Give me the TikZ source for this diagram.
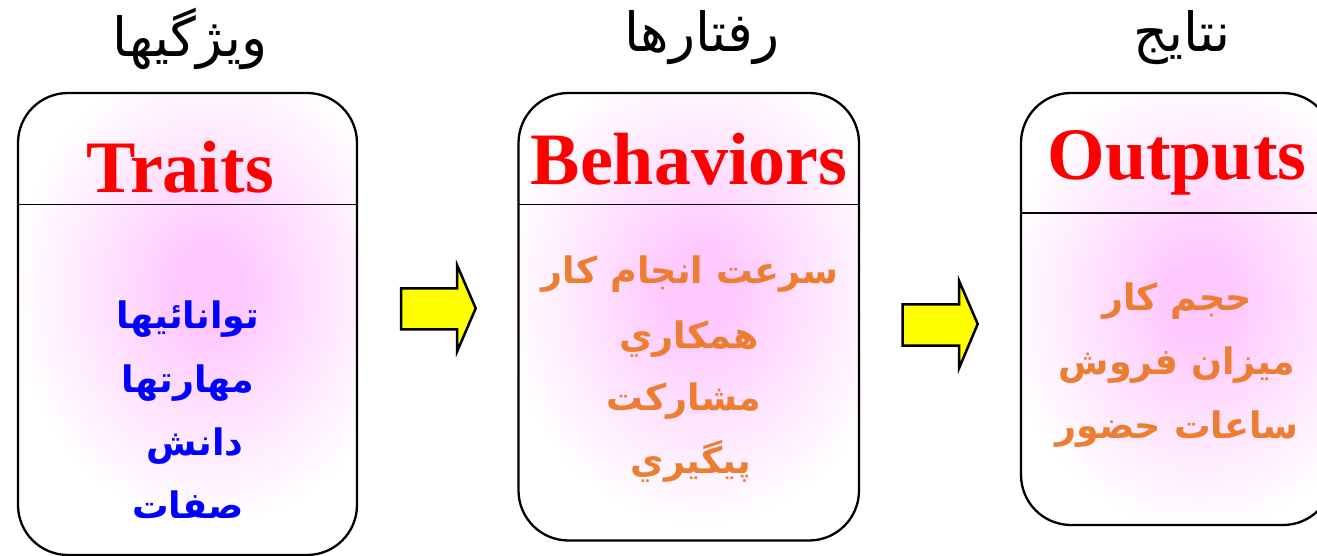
\documentclass[tikz,border=0pt]{standalone}
\usepackage{fontspec}
\setmainfont{Liberation Serif}
\newfontfamily\arabicfont[Script=Arabic]{DejaVu Sans}
\TeXXeTstate=1

\definecolor{glowpink}{RGB}{255,200,255}
\definecolor{glowmid}{RGB}{255,226,255}
\definecolor{bodyorange}{RGB}{237,125,49}
\definecolor{headred}{RGB}{255,0,0}
\definecolor{bodyblue}{RGB}{0,0,255}
\definecolor{arrowyellow}{RGB}{255,255,0}

% soft pink glow that fades to white (25bp = edge of the shaded path)
\pgfdeclareradialshading{glow}{\pgfpoint{0bp}{0bp}}{%
  color(0bp)=(glowpink); color(4bp)=(glowpink);
  color(13bp)=(glowmid); color(24bp)=(white); color(50bp)=(white)}

\begin{document}
\begin{tikzpicture}[x=1bp, y=-1bp,
  box/.style={draw=black, line width=2.3bp, rounded corners=50bp,
    inner sep=0pt, outer sep=0pt},
  divider/.style={draw=black, line width=1.8bp},
  blockarrow/.style={draw=black, fill=arrowyellow, line width=2.5bp,
    line join=miter},
  toptitle/.style={anchor=base, inner sep=0pt,
    font=\arabicfont\fontsize{54bp}{60bp}\selectfont},
  headline/.style={anchor=base, inner sep=0pt, text=headred,
    font=\bfseries\fontsize{74bp}{80bp}\selectfont},
  blueline/.style={anchor=base, inner sep=0pt, text=bodyblue,
    font=\arabicfont\bfseries\fontsize{36.5bp}{44bp}\selectfont},
  orangeline/.style={anchor=base, inner sep=0pt, text=bodyorange,
    font=\arabicfont\bfseries\fontsize{36.5bp}{44bp}\selectfont}]

\clip (0,0) rectangle (1317,556);

% ---- glow fills, clipped to each box ----
\begin{scope}
  \clip[rounded corners=50bp] (18,93) rectangle (357,555);
  \shade[shading=glow] (5,45) rectangle (415,535);
\end{scope}
\begin{scope}
  \clip[rounded corners=50bp] (518.5,93) rectangle (859,540.5);
  \shade[shading=glow] (495,45) rectangle (905,535);
\end{scope}
\begin{scope}
  \clip[rounded corners=50bp] (1021,93) rectangle (1333,525);
  \shade[shading=glow] (995,60) rectangle (1405,540);
\end{scope}

% ---- boxes ----
\node[box, minimum width=339bp, minimum height=462bp] (traits) at (187.5,324) {};
\node[box, minimum width=340.5bp, minimum height=447.5bp] (behaviors) at (688.75,316.75) {};
\node[box, minimum width=312bp, minimum height=432bp] (outputs) at (1177,309) {};

% ---- header dividers ----
\draw[divider] ([yshift=-111.5bp]traits.north west) -- ([yshift=-111.5bp]traits.north east);
\draw[divider] ([yshift=-111.5bp]behaviors.north west) -- ([yshift=-111.5bp]behaviors.north east);
\draw[divider] ([yshift=-119.7bp]outputs.north west) -- ([yshift=-119.7bp]outputs.north east);

% ---- block arrows ----
\draw[blockarrow] (401,288.3) -- (457,288.3) -- (457,265) -- (475.7,308.3)
  -- (457,351.7) -- (457,329.3) -- (401,329.3) -- cycle;
\draw[blockarrow] (902.7,304.3) -- (959,304.3) -- (959,280.7) -- (977.7,324)
  -- (959,368.3) -- (959,345.7) -- (902.7,345.7) -- cycle;

% ---- titles above the boxes ----
\node[toptitle] (h1) at (190,57) {\beginR ویژگیها\endR};
\node[toptitle] (h2) at (702,52) {\beginR رفتارها\endR};
\node[toptitle] (h3) at (1182,52) {\beginR نتایج\endR};

% ---- box headings ----
\node[headline] (traitsT) at (180,193) {Traits};
\node[headline] (behaviorsT) at (689,185) {Behaviors};
\node[headline] (outputsT) at (1177,180) {Outputs};

% ---- traits ----
\node[blueline] (t1) at (188,328) {\beginR توانائیها\endR};
\node[blueline] (t2) at (188,392) {\beginR مهارتها\endR};
\node[blueline] (t3) at (195,455) {\beginR دانش\endR};
\node[blueline] (t4) at (188,518) {\beginR صفات\endR};

% ---- behaviors ----
\node[orangeline] (b1) at (690,283) {\beginR سرعت انجام کار\endR};
\node[orangeline] (b2) at (689,348) {\beginR همکاري\endR};
\node[orangeline] (b3) at (684,410) {\beginR مشارکت\endR};
\node[orangeline] (b4) at (691,473) {\beginR پيگيري\endR};

% ---- outputs ----
\node[orangeline] (o1) at (1177,310) {\beginR حجم کار\endR};
\node[orangeline] (o2) at (1177,374) {\beginR میزان فروش\endR};
\node[orangeline] (o3) at (1177,438) {\beginR ساعات حضور\endR};
\end{tikzpicture}
\end{document}
